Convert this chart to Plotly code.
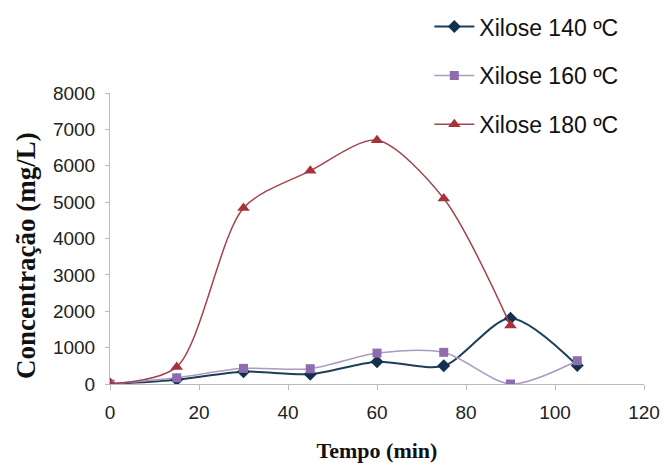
import plotly.graph_objects as go

tempo = [0, 15, 30, 45, 60, 75, 90, 105]
xil140 = [0, 120, 340, 270, 610, 500, 1810, 510]
xil160 = [0, 170, 430, 420, 850, 870, 0, 640]
tempo180 = [0, 15, 30, 45, 60, 75, 90]
xil180 = [0, 470, 4840, 5860, 6700, 5100, 1610]

names = ["Xilose 140 ºC", "Xilose 160 ºC", "Xilose 180 ºC"]
x_ticks = [0, 20, 40, 60, 80, 100, 120]
y_ticks = [0, 1000, 2000, 3000, 4000, 5000, 6000, 7000, 8000]

fig = go.Figure()
fig.add_trace(go.Scatter(
    x=tempo, y=xil140, name=names[0], mode="lines+markers", legendgroup="a",
    line=dict(color="#1C3E5A", width=2, shape="spline", smoothing=0.8),
    marker=dict(symbol="diamond", size=10, color="#14304F")))
fig.add_trace(go.Scatter(
    x=tempo, y=xil160, name=names[1], mode="lines+markers", legendgroup="b",
    line=dict(color="#A99BC2", width=1.5, shape="spline", smoothing=0.8),
    marker=dict(symbol="square", size=9, color="#8E6CB0")))
fig.add_trace(go.Scatter(
    x=tempo180, y=xil180, name=names[2], mode="lines+markers", legendgroup="c",
    line=dict(color="#A3434B", width=1.5, shape="spline", smoothing=0.8),
    marker=dict(symbol="triangle-up", size=11, color="#A8323A")))

fig.update_layout(
    width=664, height=467,
    margin=dict(l=110, r=20, t=93, b=83, autoexpand=False),
    paper_bgcolor="white", plot_bgcolor="white",
    font=dict(family="Liberation Sans, Arial", size=19, color="#222222"),
    legend=dict(x=0.598, y=1.302, xanchor="left", yanchor="top",
                font=dict(size=23, color="#111111"), tracegroupgap=16,
                bgcolor="rgba(0,0,0,0)", itemwidth=40),
    showlegend=True,
    annotations=[dict(
        text="<b>Concentração (mg/L)</b>", textangle=-90,
        xref="paper", yref="paper", x=(26 - 110) / 534, y=(384 - 256) / 291,
        xanchor="center", yanchor="middle", showarrow=False,
        font=dict(family="Liberation Serif, Times New Roman", size=27, color="#111111"))],
)
fig.update_xaxes(
    range=[0, 120], tickvals=x_ticks, ticktext=[str(v) for v in x_ticks],
    showgrid=False, zeroline=False, showline=True, linecolor="#BBBBBB", linewidth=1,
    ticks="outside", ticklen=5, tickcolor="#BBBBBB", ticklabelstandoff=6, automargin=False,
    title=dict(text="<b>Tempo (min)</b>", standoff=20,
               font=dict(family="Liberation Serif, Times New Roman", size=22, color="#111111")))
fig.update_yaxes(
    range=[0, 8000], tickvals=y_ticks, ticktext=[str(v) for v in y_ticks],
    showgrid=False, zeroline=False, showline=True, linecolor="#BBBBBB", linewidth=1,
    ticks="outside", ticklen=4, tickcolor="#BBBBBB", ticklabelstandoff=6, automargin=False)

fig.write_html("out.html")
